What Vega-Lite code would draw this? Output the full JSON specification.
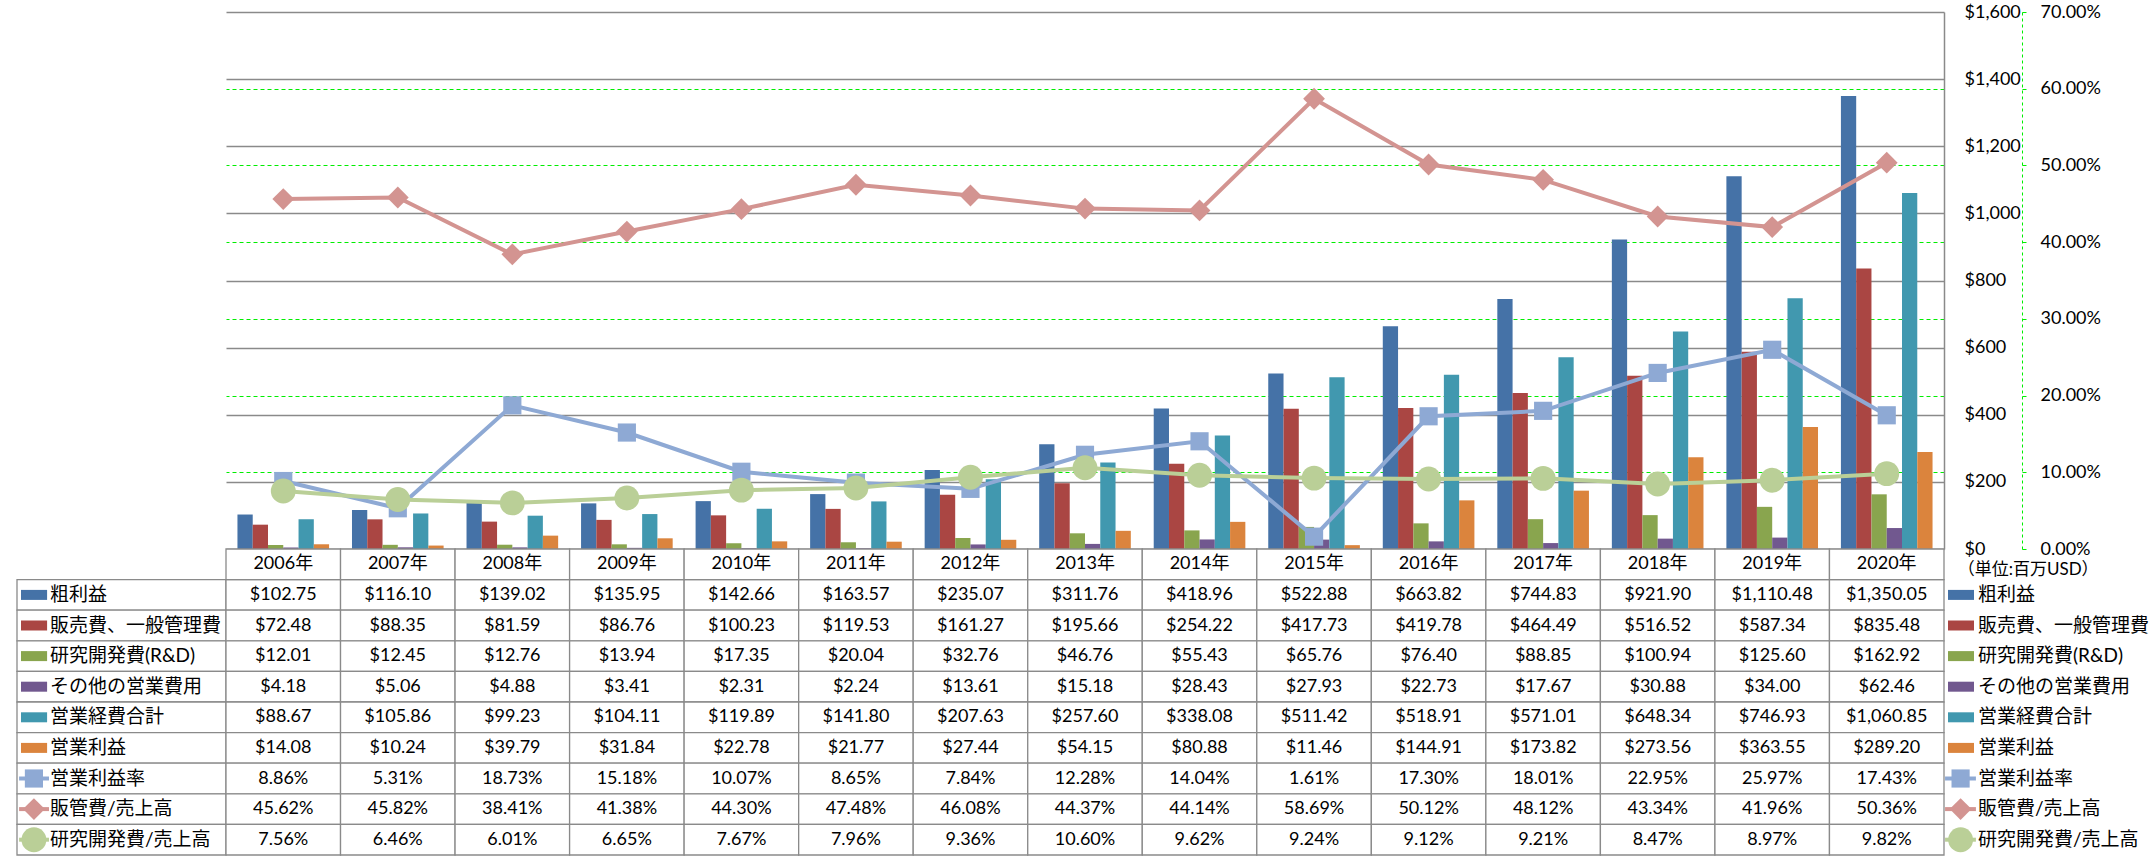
{
  "$schema": "https://vega.github.io/schema/vega-lite/v6.json",
  "background": "white",
  "padding": {"left": 16, "top": 3, "right": 0, "bottom": 0},
  "spacing": 0,
  "bounds": "flush",
  "columns": 3,
  "config": {
    "view": {"stroke": "transparent", "strokeWidth": 0},
    "style": {"cell": {"stroke": "transparent", "strokeWidth": 0}},
    "font": "Lato, 'Noto Sans CJK JP'",
    "axis": {"labelFont": "Lato, 'Noto Sans CJK JP'", "domain": false, "ticks": false, "domainColor": "transparent", "tickColor": "transparent"},
    "text": {"font": "Lato, 'Noto Sans CJK JP'"}
  },
  "datasets": {
    "fin": [
      {"yr": "2006年", "粗利益": 102.75, "販売費、一般管理費": 72.48, "研究開発費(R&D)": 12.01, "その他の営業費用": 4.18, "営業経費合計": 88.67, "営業利益": 14.08, "営業利益率": 0.0886, "販管費/売上高": 0.4562, "研究開発費/売上高": 0.0756},
      {"yr": "2007年", "粗利益": 116.10, "販売費、一般管理費": 88.35, "研究開発費(R&D)": 12.45, "その他の営業費用": 5.06, "営業経費合計": 105.86, "営業利益": 10.24, "営業利益率": 0.0531, "販管費/売上高": 0.4582, "研究開発費/売上高": 0.0646},
      {"yr": "2008年", "粗利益": 139.02, "販売費、一般管理費": 81.59, "研究開発費(R&D)": 12.76, "その他の営業費用": 4.88, "営業経費合計": 99.23, "営業利益": 39.79, "営業利益率": 0.1873, "販管費/売上高": 0.3841, "研究開発費/売上高": 0.0601},
      {"yr": "2009年", "粗利益": 135.95, "販売費、一般管理費": 86.76, "研究開発費(R&D)": 13.94, "その他の営業費用": 3.41, "営業経費合計": 104.11, "営業利益": 31.84, "営業利益率": 0.1518, "販管費/売上高": 0.4138, "研究開発費/売上高": 0.0665},
      {"yr": "2010年", "粗利益": 142.66, "販売費、一般管理費": 100.23, "研究開発費(R&D)": 17.35, "その他の営業費用": 2.31, "営業経費合計": 119.89, "営業利益": 22.78, "営業利益率": 0.1007, "販管費/売上高": 0.4430, "研究開発費/売上高": 0.0767},
      {"yr": "2011年", "粗利益": 163.57, "販売費、一般管理費": 119.53, "研究開発費(R&D)": 20.04, "その他の営業費用": 2.24, "営業経費合計": 141.80, "営業利益": 21.77, "営業利益率": 0.0865, "販管費/売上高": 0.4748, "研究開発費/売上高": 0.0796},
      {"yr": "2012年", "粗利益": 235.07, "販売費、一般管理費": 161.27, "研究開発費(R&D)": 32.76, "その他の営業費用": 13.61, "営業経費合計": 207.63, "営業利益": 27.44, "営業利益率": 0.0784, "販管費/売上高": 0.4608, "研究開発費/売上高": 0.0936},
      {"yr": "2013年", "粗利益": 311.76, "販売費、一般管理費": 195.66, "研究開発費(R&D)": 46.76, "その他の営業費用": 15.18, "営業経費合計": 257.60, "営業利益": 54.15, "営業利益率": 0.1228, "販管費/売上高": 0.4437, "研究開発費/売上高": 0.1060},
      {"yr": "2014年", "粗利益": 418.96, "販売費、一般管理費": 254.22, "研究開発費(R&D)": 55.43, "その他の営業費用": 28.43, "営業経費合計": 338.08, "営業利益": 80.88, "営業利益率": 0.1404, "販管費/売上高": 0.4414, "研究開発費/売上高": 0.0962},
      {"yr": "2015年", "粗利益": 522.88, "販売費、一般管理費": 417.73, "研究開発費(R&D)": 65.76, "その他の営業費用": 27.93, "営業経費合計": 511.42, "営業利益": 11.46, "営業利益率": 0.0161, "販管費/売上高": 0.5869, "研究開発費/売上高": 0.0924},
      {"yr": "2016年", "粗利益": 663.82, "販売費、一般管理費": 419.78, "研究開発費(R&D)": 76.40, "その他の営業費用": 22.73, "営業経費合計": 518.91, "営業利益": 144.91, "営業利益率": 0.1730, "販管費/売上高": 0.5012, "研究開発費/売上高": 0.0912},
      {"yr": "2017年", "粗利益": 744.83, "販売費、一般管理費": 464.49, "研究開発費(R&D)": 88.85, "その他の営業費用": 17.67, "営業経費合計": 571.01, "営業利益": 173.82, "営業利益率": 0.1801, "販管費/売上高": 0.4812, "研究開発費/売上高": 0.0921},
      {"yr": "2018年", "粗利益": 921.90, "販売費、一般管理費": 516.52, "研究開発費(R&D)": 100.94, "その他の営業費用": 30.88, "営業経費合計": 648.34, "営業利益": 273.56, "営業利益率": 0.2295, "販管費/売上高": 0.4334, "研究開発費/売上高": 0.0847},
      {"yr": "2019年", "粗利益": 1110.48, "販売費、一般管理費": 587.34, "研究開発費(R&D)": 125.60, "その他の営業費用": 34.00, "営業経費合計": 746.93, "営業利益": 363.55, "営業利益率": 0.2597, "販管費/売上高": 0.4196, "研究開発費/売上高": 0.0897},
      {"yr": "2020年", "粗利益": 1350.05, "販売費、一般管理費": 835.48, "研究開発費(R&D)": 162.92, "その他の営業費用": 62.46, "営業経費合計": 1060.85, "営業利益": 289.20, "営業利益率": 0.1743, "販管費/売上高": 0.5036, "研究開発費/売上高": 0.0982}
    ],
    "ser": [
      {"s": "粗利益", "k": "bar"},
      {"s": "販売費、一般管理費", "k": "bar"},
      {"s": "研究開発費(R&D)", "k": "bar"},
      {"s": "その他の営業費用", "k": "bar"},
      {"s": "営業経費合計", "k": "bar"},
      {"s": "営業利益", "k": "bar"},
      {"s": "営業利益率", "k": "line"},
      {"s": "販管費/売上高", "k": "line"},
      {"s": "研究開発費/売上高", "k": "line"}
    ]
  },
  "concat": [
    {"width": 209, "height": 537, "data": {"values": []}, "mark": "point", "view": {"stroke": "transparent"}},
    {
      "width": 1718,
      "height": 537,
      "view": {"stroke": "transparent"},
      "data": {"name": "fin"},
      "transform": [{"fold": ["粗利益", "販売費、一般管理費", "研究開発費(R&D)", "その他の営業費用", "営業経費合計", "営業利益", "営業利益率", "販管費/売上高", "研究開発費/売上高"], "as": ["s", "v"]}],
      "layer": [
        {
          "transform": [{"filter": {"field": "s", "oneOf": ["粗利益", "販売費、一般管理費", "研究開発費(R&D)", "その他の営業費用", "営業経費合計", "営業利益"]}}],
          "mark": {"type": "bar"},
          "encoding": {
            "x": {"field": "yr", "type": "nominal", "sort": null, "scale": {"paddingInner": 0.2, "paddingOuter": 0.1}, "axis": null},
            "xOffset": {"field": "s", "type": "nominal", "scale": {"domain": ["粗利益", "販売費、一般管理費", "研究開発費(R&D)", "その他の営業費用", "営業経費合計", "営業利益"], "paddingInner": 0, "paddingOuter": 0}},
            "y": {
              "field": "v", "type": "quantitative",
              "scale": {"domain": [0, 1600], "nice": false},
              "axis": {"orient": "right", "values": [0, 200, 400, 600, 800, 1000, 1200, 1400, 1600], "format": "$,.0f", "title": null,
                "grid": true, "gridColor": "#8a8a8a", "gridWidth": 1.3,
                "domain": true, "domainColor": "#8a8a8a", "domainWidth": 1.5,
                "ticks": false, "labelPadding": 20, "labelFontSize": 18, "labelColor": "#000000"}
            },
            "color": {"field": "s", "type": "nominal", "legend": null,
              "scale": {"domain": ["粗利益", "販売費、一般管理費", "研究開発費(R&D)", "その他の営業費用", "営業経費合計", "営業利益", "営業利益率", "販管費/売上高", "研究開発費/売上高"],
                "range": ["#4572A7", "#AA4643", "#89A54E", "#71588F", "#4198AF", "#DB843D", "#8EA9D4", "#D39491", "#BACF97"]}}
          }
        },
        {
          "transform": [{"filter": {"field": "s", "oneOf": ["営業利益率", "販管費/売上高", "研究開発費/売上高"]}}],
          "encoding": {
            "x": {"field": "yr", "type": "nominal", "sort": null, "axis": null},
            "y": {
              "field": "v", "type": "quantitative",
              "scale": {"domain": [0, 0.7], "nice": false},
              "axis": {"orient": "right", "offset": 78, "values": [0, 0.1, 0.2, 0.3, 0.4, 0.5, 0.6, 0.7], "format": ".2%", "title": null,
                "grid": true,
                "gridColor": {"condition": {"test": "datum.value < 0.01 || datum.value > 0.69", "value": "transparent"}, "value": "#00ee00"},
                "gridDash": [4, 3], "gridWidth": 1,
                "domain": true, "domainColor": "#00ee00", "domainDash": [3, 3], "domainWidth": 1,
                "ticks": true, "tickColor": "#00ee00", "tickSize": 4, "labelPadding": 14, "labelFontSize": 18, "labelColor": "#000000"}
            },
            "color": {"field": "s", "type": "nominal", "legend": null}
          },
          "layer": [
            {"mark": {"type": "line", "strokeWidth": 4}},
            {
              "mark": {"type": "point", "filled": true, "opacity": 1},
              "encoding": {
                "shape": {"field": "s", "type": "nominal", "legend": null, "scale": {"domain": ["営業利益率", "販管費/売上高", "研究開発費/売上高"], "range": ["square", "diamond", "circle"]}},
                "size": {"field": "s", "type": "ordinal", "legend": null, "scale": {"domain": ["営業利益率", "販管費/売上高", "研究開発費/売上高"], "range": [330, 620, 330]}}
              }
            }
          ]
        }
      ],
      "resolve": {"scale": {"y": "independent"}}
    },
    {"width": 210, "height": 537, "data": {"values": []}, "mark": "point", "view": {"stroke": "transparent"}},
    {
      "width": 209,
      "height": 306,
      "view": {"stroke": "transparent"},
      "data": {"name": "ser"},
      "encoding": {
        "y": {"field": "s", "type": "nominal", "axis": null,
          "scale": {"domain": ["年度", "粗利益", "販売費、一般管理費", "研究開発費(R&D)", "その他の営業費用", "営業経費合計", "営業利益", "営業利益率", "販管費/売上高", "研究開発費/売上高"], "paddingInner": 0, "paddingOuter": 0}}
      },
      "layer": [
        {
          "mark": {"type": "rect", "fill": "white", "stroke": "#8a8a8a", "strokeWidth": 1.3},
          "encoding": {
            "x": {"datum": 0, "type": "quantitative", "scale": {"domain": [0, 100]}, "axis": null},
            "x2": {"datum": 100}
          }
        },
        {
          "transform": [{"filter": "datum.k === 'bar'"}],
          "mark": {"type": "bar", "height": 10},
          "encoding": {
            "x": {"datum": 1.9, "type": "quantitative"},
            "x2": {"datum": 14.4},
            "color": {"field": "s", "type": "nominal", "legend": null}
          }
        },
        {
          "transform": [{"filter": "datum.k === 'line'"}],
          "mark": {"type": "rule", "strokeWidth": 4},
          "encoding": {
            "x": {"datum": 1, "type": "quantitative"},
            "x2": {"datum": 15.3},
            "color": {"field": "s", "type": "nominal", "legend": null}
          }
        },
        {
          "transform": [{"filter": "datum.k === 'line'"}],
          "mark": {"type": "point", "filled": true, "opacity": 1},
          "encoding": {
            "x": {"datum": 8.1, "type": "quantitative"},
            "color": {"field": "s", "type": "nominal", "legend": null},
            "shape": {"field": "s", "type": "nominal", "legend": null},
            "size": {"field": "s", "type": "ordinal", "legend": null}
          }
        },
        {
          "mark": {"type": "text", "align": "left", "baseline": "middle", "fontSize": 19, "color": "#000000"},
          "encoding": {
            "x": {"datum": 15.8, "type": "quantitative"},
            "text": {"field": "s"}
          }
        }
      ]
    },
    {
      "width": 1718,
      "height": 306,
      "view": {"stroke": "transparent"},
      "data": {"name": "fin"},
      "transform": [{"fold": ["粗利益", "販売費、一般管理費", "研究開発費(R&D)", "その他の営業費用", "営業経費合計", "営業利益", "営業利益率", "販管費/売上高", "研究開発費/売上高"], "as": ["s", "v"]}],
      "encoding": {
        "x": {"field": "yr", "type": "nominal", "sort": null, "scale": {"paddingInner": 0, "paddingOuter": 0}, "axis": null},
        "y": {"field": "s", "type": "nominal", "axis": null,
          "scale": {"domain": ["年度", "粗利益", "販売費、一般管理費", "研究開発費(R&D)", "その他の営業費用", "営業経費合計", "営業利益", "営業利益率", "販管費/売上高", "研究開発費/売上高"], "paddingInner": 0, "paddingOuter": 0}}
      },
      "layer": [
        {"mark": {"type": "rect", "fill": "white", "stroke": "#8a8a8a", "strokeWidth": 1.3}},
        {
          "transform": [{"filter": "datum.s === '粗利益'"}],
          "mark": {"type": "rect", "fill": "white", "stroke": "#8a8a8a", "strokeWidth": 1.3},
          "encoding": {"y": {"datum": "年度", "type": "nominal"}}
        },
        {
          "transform": [{"filter": "datum.s === '粗利益'"}],
          "mark": {"type": "text", "align": "center", "baseline": "middle", "fontSize": 18, "color": "#000000"},
          "encoding": {"y": {"datum": "年度", "type": "nominal"}, "text": {"field": "yr"}}
        },
        {
          "transform": [{"filter": {"field": "s", "oneOf": ["粗利益", "販売費、一般管理費", "研究開発費(R&D)", "その他の営業費用", "営業経費合計", "営業利益"]}}],
          "mark": {"type": "text", "align": "center", "baseline": "middle", "fontSize": 18, "color": "#000000"},
          "encoding": {"text": {"field": "v", "type": "quantitative", "format": "$,.2f"}}
        },
        {
          "transform": [{"filter": {"field": "s", "oneOf": ["営業利益率", "販管費/売上高", "研究開発費/売上高"]}}],
          "mark": {"type": "text", "align": "center", "baseline": "middle", "fontSize": 18, "color": "#000000"},
          "encoding": {"text": {"field": "v", "type": "quantitative", "format": ".2%"}}
        }
      ]
    },
    {
      "width": 210,
      "height": 306,
      "view": {"stroke": "transparent"},
      "data": {"name": "ser"},
      "encoding": {
        "y": {"field": "s", "type": "nominal", "axis": null,
          "scale": {"domain": ["年度", "粗利益", "販売費、一般管理費", "研究開発費(R&D)", "その他の営業費用", "営業経費合計", "営業利益", "営業利益率", "販管費/売上高", "研究開発費/売上高"], "paddingInner": 0, "paddingOuter": 0}}
      },
      "layer": [
        {
          "transform": [{"filter": "datum.k === 'bar'"}],
          "mark": {"type": "bar", "height": 10},
          "encoding": {
            "x": {"datum": 1.9, "type": "quantitative", "scale": {"domain": [0, 100]}, "axis": null},
            "x2": {"datum": 14.3},
            "color": {"field": "s", "type": "nominal", "legend": null}
          }
        },
        {
          "transform": [{"filter": "datum.k === 'line'"}],
          "mark": {"type": "rule", "strokeWidth": 4},
          "encoding": {
            "x": {"datum": 0.5, "type": "quantitative"},
            "x2": {"datum": 15.2},
            "color": {"field": "s", "type": "nominal", "legend": null}
          }
        },
        {
          "transform": [{"filter": "datum.k === 'line'"}],
          "mark": {"type": "point", "filled": true, "opacity": 1},
          "encoding": {
            "x": {"datum": 7.9, "type": "quantitative"},
            "color": {"field": "s", "type": "nominal", "legend": null},
            "shape": {"field": "s", "type": "nominal", "legend": null},
            "size": {"field": "s", "type": "ordinal", "legend": null}
          }
        },
        {
          "mark": {"type": "text", "align": "left", "baseline": "middle", "fontSize": 19, "color": "#000000"},
          "encoding": {
            "x": {"datum": 16.2, "type": "quantitative"},
            "text": {"field": "s"}
          }
        },
        {
          "transform": [{"filter": "datum.s === '粗利益'"}],
          "mark": {"type": "text", "align": "left", "baseline": "middle", "fontSize": 17, "dy": 6, "color": "#000000"},
          "encoding": {
            "x": {"datum": 6.5, "type": "quantitative"},
            "y": {"datum": "年度", "type": "nominal"},
            "text": {"value": "（単位:百万USD）"}
          }
        }
      ]
    }
  ]
}
